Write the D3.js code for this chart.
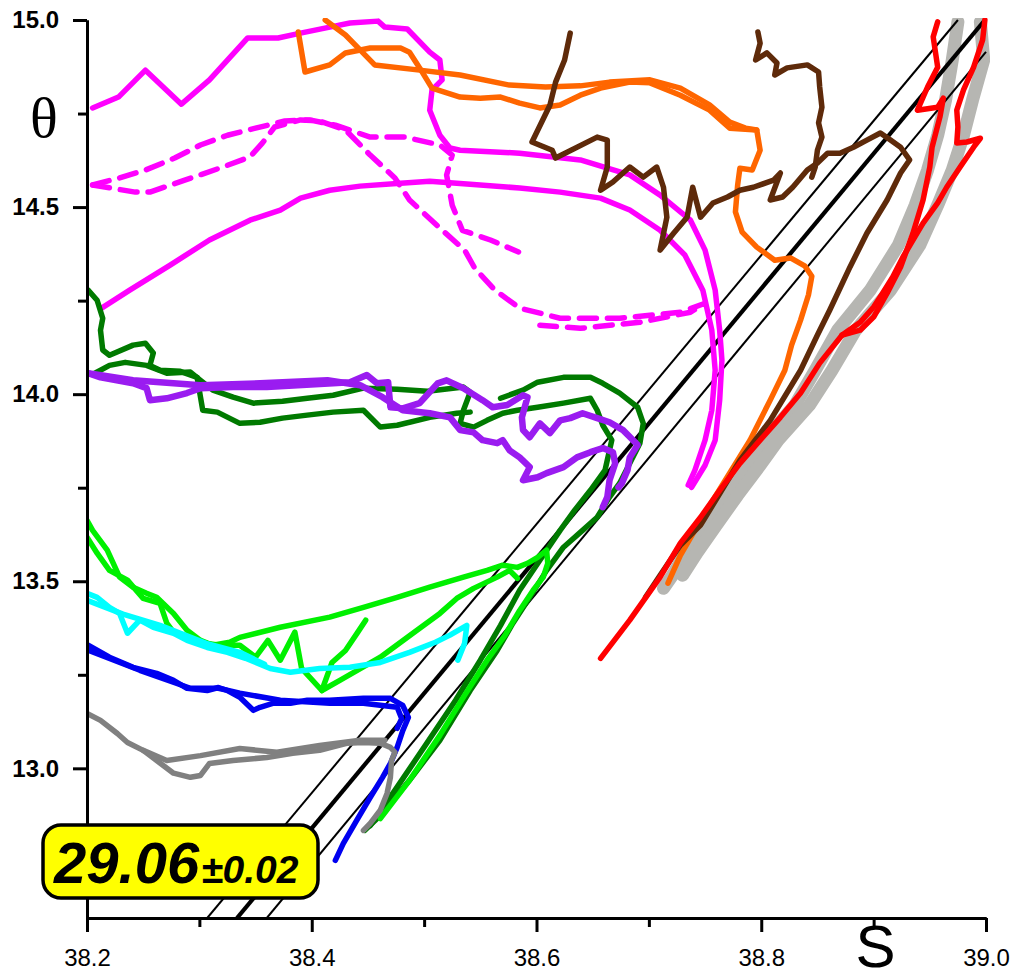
<!DOCTYPE html>
<html>
<head>
<meta charset="utf-8">
<script src="https://cdn.jsdelivr.net/npm/d3@7"></script>
<style>
  body { margin: 0; background: #fff; }
</style>
</head>
<body>
<div class="diagramme"></div>
<script>
"use strict";

// ---- donnees : [S, theta] ----
var sTicks = [38.2, 38.4, 38.6, 38.8, 39.0];
var sMinor = [38.3, 38.5, 38.7, 38.9];
var tTicks = [13.0, 13.5, 14.0, 14.5, 15.0];
var tMinor = [12.75, 13.25, 13.75, 14.25, 14.75];

// isopycnes 29.04 / 29.06 / 29.08 (extremites)
var isoSigma = [29.04, 29.06, 29.08];
var isoDebut = [[38.307, 12.6], [38.3335, 12.6], [38.360, 12.6]];
var isoFin = [[38.975, 15.0], [38.999, 15.0], [39.0, 14.915]];

var magentaA = [[38.205,14.765],[38.228,14.794],[38.252,14.866],[38.284,14.775],[38.309,14.840],[38.343,14.952],[38.370,14.952],[38.390,14.965],[38.416,14.981],[38.434,14.992],[38.459,14.997],[38.465,14.981],[38.485,14.976],[38.505,14.914],[38.514,14.893],[38.516,14.840],[38.507,14.813],[38.505,14.759],[38.514,14.692],[38.523,14.658],[38.532,14.652],[38.585,14.644],[38.639,14.626],[38.683,14.586],[38.710,14.532],[38.737,14.465],[38.750,14.385],[38.759,14.278],[38.763,14.171],[38.765,14.091],[38.763,13.984],[38.759,13.877],[38.750,13.810],[38.738,13.751]];
var magentaB = [[38.213,14.230],[38.238,14.278],[38.274,14.345],[38.309,14.412],[38.345,14.465],[38.372,14.492],[38.390,14.524],[38.416,14.545],[38.443,14.556],[38.479,14.564],[38.505,14.569],[38.541,14.561],[38.585,14.551],[38.621,14.540],[38.657,14.524],[38.683,14.492],[38.710,14.438],[38.732,14.372],[38.748,14.278],[38.756,14.171],[38.759,14.064],[38.756,13.957],[38.750,13.877],[38.741,13.797],[38.735,13.757]];
var magentaTirets1 = [[38.205,14.559],[38.229,14.578],[38.252,14.599],[38.278,14.631],[38.301,14.666],[38.325,14.692],[38.350,14.711],[38.376,14.730],[38.398,14.733],[38.421,14.719],[38.452,14.687],[38.483,14.687],[38.514,14.666],[38.525,14.639],[38.520,14.586],[38.525,14.505],[38.534,14.438],[38.559,14.412],[38.584,14.380]];
var magentaTirets2 = [[38.205,14.559],[38.243,14.540],[38.256,14.540],[38.287,14.572],[38.318,14.604],[38.345,14.634],[38.356,14.671],[38.367,14.714],[38.390,14.733],[38.407,14.730],[38.430,14.706],[38.452,14.639],[38.474,14.578],[38.487,14.519],[38.514,14.444],[38.536,14.385],[38.545,14.337],[38.563,14.278],[38.585,14.230],[38.621,14.203],[38.674,14.203],[38.728,14.219],[38.750,14.243],[38.737,14.219],[38.692,14.192],[38.639,14.176],[38.603,14.184]];

var orange1 = [[38.388,14.968],[38.394,14.861],[38.416,14.880],[38.430,14.912],[38.452,14.925],[38.479,14.925],[38.487,14.914],[38.496,14.872],[38.507,14.818],[38.532,14.794],[38.550,14.791],[38.568,14.794],[38.585,14.778],[38.603,14.765],[38.621,14.773],[38.639,14.799],[38.657,14.818],[38.683,14.834],[38.701,14.832],[38.728,14.799],[38.754,14.759],[38.772,14.711],[38.796,14.706],[38.799,14.652],[38.792,14.599],[38.781,14.604],[38.779,14.559],[38.777,14.487],[38.783,14.433],[38.796,14.393],[38.812,14.358],[38.826,14.364],[38.839,14.342],[38.845,14.315],[38.842,14.265],[38.835,14.198],[38.827,14.131],[38.821,14.064],[38.808,13.984],[38.790,13.877],[38.768,13.770],[38.746,13.663],[38.728,13.569],[38.717,13.495]];
var orange2 = [[38.412,15.0],[38.430,14.960],[38.443,14.920],[38.456,14.880],[38.496,14.866],[38.532,14.853],[38.576,14.826],[38.608,14.821],[38.639,14.824],[38.665,14.834],[38.701,14.840],[38.728,14.818],[38.754,14.773],[38.772,14.727],[38.786,14.711],[38.796,14.706]];

var brun1 = [[38.630,14.965],[38.625,14.893],[38.617,14.834],[38.612,14.773],[38.596,14.674],[38.614,14.652],[38.617,14.631],[38.654,14.687],[38.663,14.679],[38.663,14.607],[38.657,14.545],[38.668,14.567],[38.683,14.607],[38.695,14.580],[38.707,14.607],[38.713,14.553],[38.716,14.473],[38.710,14.385],[38.722,14.430],[38.734,14.473],[38.739,14.553],[38.746,14.473],[38.757,14.511],[38.770,14.527],[38.781,14.545],[38.793,14.553],[38.811,14.572],[38.817,14.591],[38.808,14.519],[38.819,14.527],[38.828,14.553],[38.841,14.599],[38.850,14.618],[38.859,14.644],[38.870,14.644],[38.882,14.660],[38.894,14.679],[38.906,14.698],[38.915,14.679],[38.924,14.660],[38.932,14.626],[38.924,14.591],[38.912,14.519],[38.894,14.430],[38.879,14.340],[38.861,14.225],[38.850,14.158],[38.835,14.064],[38.808,13.930],[38.781,13.823],[38.746,13.650],[38.728,13.596],[38.710,13.516],[38.697,13.457]];
var brun2 = [[38.797,14.968],[38.799,14.938],[38.795,14.893],[38.805,14.912],[38.814,14.885],[38.812,14.853],[38.823,14.872],[38.841,14.880],[38.851,14.861],[38.852,14.821],[38.854,14.767],[38.851,14.725],[38.854,14.687],[38.850,14.652],[38.848,14.607],[38.845,14.580]];

var grisClair1 = [[38.975,14.995],[38.970,14.893],[38.964,14.786],[38.957,14.692],[38.948,14.599],[38.937,14.505],[38.922,14.398],[38.897,14.278],[38.868,14.171],[38.848,14.064],[38.830,13.971],[38.803,13.877],[38.788,13.810],[38.768,13.730],[38.748,13.650],[38.733,13.577],[38.721,13.516],[38.713,13.481]];
var grisClair2 = [[38.995,14.995],[38.998,14.893],[38.988,14.786],[38.980,14.692],[38.970,14.599],[38.957,14.505],[38.941,14.398],[38.915,14.278],[38.884,14.171],[38.863,14.064],[38.843,13.971],[38.815,13.877],[38.799,13.810],[38.779,13.730],[38.760,13.650],[38.743,13.577],[38.730,13.516]];

var rouge1 = [[38.957,14.995],[38.953,14.955],[38.957,14.874],[38.948,14.821],[38.939,14.759],[38.957,14.767],[38.962,14.791],[38.959,14.741],[38.952,14.660],[38.950,14.607],[38.944,14.519],[38.935,14.430],[38.924,14.340],[38.912,14.270],[38.900,14.206],[38.888,14.171],[38.872,14.158]];
var rouge2 = [[38.999,15.0],[38.997,14.947],[38.989,14.874],[38.980,14.813],[38.974,14.759],[38.975,14.714],[38.974,14.671],[38.983,14.674],[38.995,14.684],[38.989,14.660],[38.977,14.607],[38.965,14.553],[38.957,14.511],[38.944,14.457],[38.935,14.412],[38.926,14.366],[38.917,14.313],[38.908,14.270],[38.900,14.233],[38.888,14.192],[38.872,14.158]];
var rougeBas = [[38.872,14.158],[38.852,14.083],[38.835,14.003],[38.817,13.938],[38.799,13.877],[38.781,13.815],[38.763,13.743],[38.746,13.671],[38.728,13.602],[38.710,13.511],[38.683,13.396],[38.657,13.294]];

var vertFonce1 = [[38.201,14.278],[38.209,14.251],[38.214,14.203],[38.212,14.171],[38.214,14.118],[38.220,14.104],[38.241,14.131],[38.252,14.136],[38.259,14.110],[38.256,14.077],[38.265,14.064],[38.283,14.061],[38.298,14.045],[38.301,13.992],[38.303,13.957],[38.316,13.952],[38.336,13.922],[38.354,13.925],[38.374,13.936],[38.396,13.944],[38.419,13.952],[38.446,13.957],[38.461,13.912],[38.476,13.917],[38.505,13.938],[38.529,13.949],[38.541,13.952]];
var vertFonce2 = [[38.207,14.056],[38.220,14.077],[38.234,14.085],[38.253,14.077],[38.271,14.056],[38.292,14.059],[38.301,14.037],[38.312,14.011],[38.330,13.992],[38.348,13.976],[38.374,13.981],[38.396,13.989],[38.419,13.997],[38.446,14.016],[38.476,14.013],[38.503,14.008],[38.535,14.019],[38.541,14.005],[38.535,13.957],[38.532,13.922],[38.544,13.912],[38.556,13.930],[38.570,13.949],[38.583,13.957],[38.601,13.965],[38.624,13.976],[38.648,13.989],[38.654,13.957],[38.659,13.917],[38.667,13.877],[38.661,13.797],[38.648,13.743],[38.634,13.690],[38.621,13.636],[38.603,13.556],[38.585,13.476],[38.568,13.382],[38.550,13.289],[38.528,13.182],[38.501,13.061],[38.474,12.941],[38.452,12.847]];
var vertFonce3 = [[38.568,13.989],[38.588,14.011],[38.601,14.032],[38.624,14.045],[38.648,14.045],[38.659,14.029],[38.674,14.003],[38.690,13.965],[38.695,13.922],[38.692,13.869],[38.683,13.815],[38.674,13.762],[38.665,13.725],[38.654,13.671],[38.641,13.636],[38.624,13.591],[38.609,13.529],[38.594,13.457],[38.579,13.388],[38.565,13.315],[38.541,13.208],[38.514,13.075],[38.487,12.968],[38.461,12.874],[38.447,12.834]];

var violet1 = [[38.201,14.056],[38.212,14.045],[38.241,14.029],[38.253,14.016],[38.256,13.984],[38.271,13.989],[38.289,14.003],[38.301,14.016],[38.330,14.019],[38.360,14.019],[38.419,14.029],[38.434,14.032],[38.449,14.051],[38.458,14.029],[38.468,14.032],[38.470,13.965],[38.481,13.962],[38.496,13.976],[38.512,14.029],[38.520,14.037],[38.535,14.016],[38.552,13.984],[38.561,13.965],[38.574,13.971],[38.588,13.997],[38.592,13.992],[38.587,13.938],[38.588,13.904],[38.594,13.885],[38.603,13.922],[38.612,13.896],[38.621,13.930],[38.630,13.936],[38.641,13.949],[38.654,13.936],[38.665,13.925],[38.677,13.904],[38.686,13.877],[38.690,13.864],[38.683,13.831],[38.681,13.797],[38.676,13.762],[38.673,13.751]];
var violet2 = [[38.201,14.056],[38.241,14.037],[38.301,14.024],[38.354,14.029],[38.414,14.037],[38.443,14.024],[38.463,13.992],[38.481,13.957],[38.505,13.949],[38.523,13.938],[38.532,13.904],[38.544,13.898],[38.552,13.877],[38.565,13.869],[38.570,13.877],[38.576,13.850],[38.585,13.831],[38.594,13.805],[38.588,13.770],[38.601,13.778],[38.609,13.789],[38.624,13.805],[38.636,13.831],[38.648,13.845],[38.659,13.856],[38.668,13.845],[38.670,13.815],[38.665,13.770],[38.663,13.725],[38.659,13.698]];

var vert1 = [[38.200,13.663],[38.205,13.636],[38.218,13.583],[38.229,13.511],[38.241,13.484],[38.253,13.468],[38.262,13.457],[38.277,13.414],[38.289,13.369],[38.301,13.342],[38.312,13.329],[38.327,13.337],[38.336,13.350],[38.372,13.377],[38.416,13.404],[38.446,13.430],[38.476,13.457],[38.505,13.484],[38.535,13.511],[38.556,13.529],[38.570,13.543],[38.583,13.537],[38.592,13.548],[38.601,13.564],[38.609,13.583],[38.610,13.548],[38.606,13.511],[38.597,13.476],[38.585,13.422],[38.572,13.356],[38.556,13.289],[38.536,13.195],[38.514,13.088],[38.487,12.968],[38.461,12.866]];
var vert2 = [[38.200,13.618],[38.209,13.575],[38.220,13.529],[38.236,13.503],[38.250,13.454],[38.265,13.441],[38.271,13.388],[38.277,13.364],[38.294,13.342],[38.307,13.334],[38.318,13.329],[38.336,13.329],[38.350,13.297],[38.361,13.342],[38.372,13.289],[38.385,13.364],[38.391,13.267],[38.409,13.208],[38.418,13.283],[38.430,13.315],[38.441,13.364],[38.448,13.396]];
var vert3 = [[38.409,13.208],[38.425,13.235],[38.461,13.297],[38.490,13.361],[38.514,13.414],[38.529,13.454],[38.544,13.481],[38.565,13.511],[38.576,13.529],[38.583,13.508]];

var cyan1 = [[38.200,13.468],[38.209,13.457],[38.220,13.430],[38.229,13.414],[38.236,13.361],[38.247,13.396],[38.259,13.377],[38.277,13.361],[38.289,13.342],[38.307,13.323],[38.325,13.310],[38.341,13.294],[38.363,13.267],[38.381,13.257],[38.407,13.267],[38.434,13.270],[38.461,13.283],[38.487,13.310],[38.510,13.337],[38.523,13.356],[38.538,13.382],[38.536,13.334],[38.530,13.289]];
var cyan2 = [[38.200,13.449],[38.232,13.412],[38.265,13.382],[38.306,13.334],[38.336,13.310],[38.358,13.278]];

var bleu1 = [[38.201,13.329],[38.220,13.297],[38.241,13.270],[38.262,13.254],[38.277,13.235],[38.289,13.214],[38.307,13.208],[38.317,13.216],[38.325,13.208],[38.336,13.190],[38.348,13.155],[38.354,13.163],[38.366,13.174],[38.381,13.174],[38.396,13.182],[38.416,13.182],[38.446,13.187],[38.470,13.187],[38.481,13.168],[38.486,13.136],[38.481,13.101],[38.476,13.056],[38.470,13.013],[38.463,12.976],[38.452,12.922],[38.440,12.861],[38.428,12.799],[38.421,12.754]];
var bleu2 = [[38.201,13.316],[38.247,13.262],[38.292,13.214],[38.317,13.214],[38.336,13.201],[38.372,13.182],[38.416,13.174],[38.446,13.174],[38.476,13.163],[38.480,13.133],[38.476,13.107]];

var gris1 = [[38.200,13.147],[38.212,13.128],[38.227,13.093],[38.236,13.069],[38.250,13.048],[38.262,13.021],[38.277,12.987],[38.292,12.976],[38.301,12.981],[38.309,13.013],[38.330,13.021],[38.360,13.029],[38.383,13.040],[38.407,13.048],[38.431,13.067],[38.446,13.069],[38.461,13.067],[38.470,13.056],[38.474,13.043],[38.471,13.021],[38.470,12.976],[38.467,12.933],[38.461,12.888],[38.452,12.853],[38.446,12.834]];
var gris2 = [[38.250,13.048],[38.271,13.021],[38.301,13.034],[38.336,13.053],[38.369,13.043],[38.407,13.061],[38.443,13.075],[38.465,13.075]];

var etiquette = "29.06";
var etiquetteErreur = "\u00b10.02";

// ---- mise en page ----
var larg = 1016, haut = 979;
var gauche = 87, droite = 986, hautTrace = 20, basTrace = 918;
var ep = 5.5; // epaisseur des profils

var x = d3.scaleLinear().domain([38.2, 39.0]).range([gauche, droite]);
var y = d3.scaleLinear().domain([12.6, 15.0]).range([basTrace, hautTrace]);

var svg = d3.select(".diagramme")
  .append("svg")
  .attr("width", larg)
  .attr("height", haut)
  .style("display", "block");

svg.append("defs").append("clipPath")
  .attr("id", "zone")
  .append("rect")
    .attr("x", gauche).attr("y", hautTrace - 2)
    .attr("width", droite - gauche + 4).attr("height", basTrace - hautTrace + 2);

var trace = svg.append("g").attr("clip-path", "url(#zone)");

var ligne = d3.line()
  .x(function(d){ return x(d[0]); })
  .y(function(d){ return y(d[1]); });

function dessineProfils(liste){
  trace.selectAll(null)
    .data(liste)
    .enter()
    .append("path")
      .attr("d", function(d){ return ligne(d[0]); })
      .attr("fill", "none")
      .attr("stroke", function(d){ return d[1]; })
      .attr("stroke-width", function(d){ return d[2]; })
      .attr("stroke-dasharray", function(d){ return d[3]; })
      .attr("stroke-linejoin", "round")
      .attr("stroke-linecap", "round");
}

// bande grise (sous les isopycnes)
dessineProfils([
  [grisClair1, "#b6b6b2", 13, null],
  [grisClair2, "#b6b6b2", 13, null]
]);

// isopycnes
trace.selectAll("line.iso")
  .data(isoSigma)
  .enter()
  .append("line")
    .attr("class", "iso")
    .attr("x1", function(d, i){ return x(isoDebut[i][0]); })
    .attr("y1", function(d, i){ return y(isoDebut[i][1]); })
    .attr("x2", function(d, i){ return x(isoFin[i][0]); })
    .attr("y2", function(d, i){ return y(isoFin[i][1]); })
    .attr("stroke", "#000")
    .attr("stroke-width", function(d){ return d == 29.06 ? 4.2 : 2; });

// profils : [donnees, couleur, epaisseur, tirets]
dessineProfils([
  [magentaB, "#ff00ff", ep, null],
  [magentaA, "#ff00ff", ep, null],
  [magentaTirets1, "#ff00ff", ep, "17,11"],
  [magentaTirets2, "#ff00ff", ep, "17,11"],
  [orange2, "#ff6600", ep, null],
  [orange1, "#ff6600", ep, null],
  [brun2, "#5e2a0a", ep, null],
  [brun1, "#5e2a0a", ep, null],
  [vertFonce1, "#007a00", ep, null],
  [vertFonce2, "#007a00", ep, null],
  [vertFonce3, "#007a00", ep, null],
  [violet2, "#9a1cf0", 6.5, null],
  [violet1, "#9a1cf0", 6.5, null],
  [vert1, "#00f000", ep, null],
  [vert2, "#00f000", ep, null],
  [vert3, "#00f000", ep, null],
  [cyan2, "#00ffff", ep, null],
  [cyan1, "#00ffff", ep, null],
  [bleu2, "#0000f0", ep, null],
  [bleu1, "#0000f0", ep, null],
  [gris2, "#808080", ep, null],
  [gris1, "#808080", ep, null],
  [rouge1, "#ff0000", ep, null],
  [rouge2, "#ff0000", ep, null],
  [rougeBas, "#ff0000", ep, null]
]);

// axes
var axeX = d3.axisBottom(x).tickValues(sTicks).tickSize(14).tickPadding(17).tickSizeOuter(0)
  .tickFormat(d3.format(".1f"));
var axeXmin = d3.axisBottom(x).tickValues(sMinor).tickSize(9).tickFormat("").tickSizeOuter(0);
var axeY = d3.axisLeft(y).tickValues(tTicks).tickSize(14).tickPadding(14).tickSizeOuter(0)
  .tickFormat(d3.format(".1f"));
var axeYmin = d3.axisLeft(y).tickValues(tMinor).tickSize(9).tickFormat("").tickSizeOuter(0);

function styleAxe(g, gras){
  g.select(".domain").attr("stroke-width", 3).attr("stroke", "#000");
  g.selectAll(".tick line").attr("stroke-width", 3).attr("stroke", "#000");
  g.selectAll(".tick text")
    .attr("font-family", "Liberation Sans, Arial, sans-serif")
    .attr("font-size", "24px")
    .attr("font-weight", gras ? "bold" : "normal")
    .attr("fill", "#000");
}

svg.append("g").attr("transform", "translate(0," + basTrace + ")").call(axeXmin).call(styleAxe, false);
svg.append("g").attr("transform", "translate(0," + basTrace + ")").call(axeX).call(styleAxe, false);
svg.append("g").attr("transform", "translate(" + gauche + ",0)").call(axeYmin).call(styleAxe, true);
svg.append("g").attr("transform", "translate(" + gauche + ",0)").call(axeY).call(styleAxe, true);

// titres des axes
svg.append("text")
  .text("\u03b8")
  .attr("x", 44)
  .attr("y", y(14.75) + 23)
  .attr("text-anchor", "middle")
  .attr("font-family", "Liberation Serif, Times New Roman, serif")
  .attr("font-size", "58px")
  .attr("fill", "black");

svg.append("text")
  .text("S")
  .attr("x", x(38.9) + 2)
  .attr("y", 967)
  .attr("text-anchor", "middle")
  .attr("font-family", "Liberation Sans, Arial, sans-serif")
  .attr("font-size", "60px")
  .attr("fill", "black");

// cartouche jaune
svg.append("rect")
  .attr("x", 43).attr("y", 825)
  .attr("width", 275).attr("height", 73)
  .attr("rx", 18).attr("ry", 18)
  .attr("fill", "#ffff00")
  .attr("stroke", "#000")
  .attr("stroke-width", 3.5);

var lib = svg.append("text")
  .attr("x", 54)
  .attr("y", 883)
  .attr("font-family", "Liberation Sans, Arial, sans-serif")
  .attr("font-weight", "bold")
  .attr("font-style", "italic")
  .attr("fill", "black");
lib.append("tspan").attr("font-size", "58px").text(etiquette);
lib.append("tspan").attr("font-size", "39px").attr("dx", 2).text(etiquetteErreur);
</script>
</body>
</html>
